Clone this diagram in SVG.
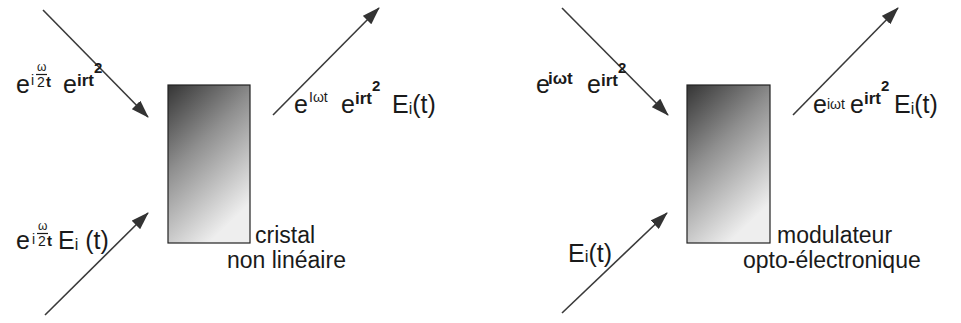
<svg xmlns="http://www.w3.org/2000/svg" width="961" height="323" viewBox="0 0 961 323">
<style>
text{font-family:"Liberation Sans",Arial,sans-serif;fill:#1a1a1a}
.b{font-size:25px}
.s{font-size:14px}
.f{font-size:12px}
.sb{font-size:17px;font-weight:bold}
.sc{font-size:15px;font-weight:bold}
.lab{font-size:23px}
.ar{stroke:#3a3a3a;stroke-width:1.6;fill:none}
.box{stroke:#222;stroke-width:1.2}
.fr{stroke:#1a1a1a;stroke-width:1.2}
</style>
<defs>
<marker id="ah" viewBox="0 0 18 12" refX="17" refY="6" markerWidth="18" markerHeight="12" markerUnits="userSpaceOnUse" orient="auto">
<path d="M0,0 L18,6 L0,12 Z" fill="#333"/>
</marker>
<linearGradient id="g" x1="0" y1="0" x2="0.5" y2="1">
<stop offset="0" stop-color="#353535"/>
<stop offset="0.45" stop-color="#8f8f8f"/>
<stop offset="1" stop-color="#eeeeee"/>
</linearGradient>
</defs>
<g id="connectors">
<line class="ar" x1="43" y1="10" x2="148" y2="117" marker-end="url(#ah)"/>
<line class="ar" x1="45" y1="315" x2="148" y2="213" marker-end="url(#ah)"/>
<line class="ar" x1="273" y1="115" x2="379" y2="8" marker-end="url(#ah)"/>
<line class="ar" x1="562" y1="8" x2="668" y2="115" marker-end="url(#ah)"/>
<line class="ar" x1="562" y1="313" x2="667" y2="213" marker-end="url(#ah)"/>
<line class="ar" x1="793" y1="115" x2="898" y2="8" marker-end="url(#ah)"/>
</g>
<g id="crystal">
<rect class="box" x="168" y="85" width="82" height="158" fill="url(#g)"/>
<text class="lab" x="255" y="243">cristal</text>
<text class="lab" x="227" y="268">non linéaire</text>
</g>
<g id="modulator">
<rect class="box" x="687" y="85" width="83" height="158" fill="url(#g)"/>
<text class="lab" x="777" y="243">modulateur</text>
<text class="lab" x="743" y="268">opto-électronique</text>
</g>
<g id="label-left-top">
<text class="b" x="16" y="93">e</text>
<text class="s" x="31" y="85">i</text>
<text class="f" x="37" y="71">ω</text>
<line class="fr" x1="36" y1="74.5" x2="47" y2="74.5"/>
<text class="s" x="37" y="87">2</text>
<text class="sc" x="46" y="87">t</text>
<text class="b" x="63" y="93">e</text>
<text class="sb" x="77" y="86">irt</text>
<text class="sc" x="94" y="73">2</text>
</g>
<g id="label-left-bottom">
<text class="b" x="16" y="249">e</text>
<text class="s" x="32" y="244">i</text>
<text class="f" x="38" y="230">ω</text>
<line class="fr" x1="37" y1="233.5" x2="48" y2="233.5"/>
<text class="s" x="38" y="246">2</text>
<text class="sc" x="47" y="246">t</text>
<text class="b" x="58" y="249">E<tspan font-size="16" dy="1">i</tspan><tspan dy="-1"> (t)</tspan></text>
</g>
<g id="label-left-out">
<text class="b" x="294" y="113">e</text>
<text class="s" x="309" y="102">Iωt</text>
<text class="b" x="341" y="113">e</text>
<text class="sb" x="355" y="104">irt</text>
<text class="sc" x="372" y="91">2</text>
<text class="b" x="392" y="113">E<tspan font-size="16" dy="1">i</tspan><tspan dy="-1">(t)</tspan></text>
</g>
<g id="label-right-top">
<text class="b" x="536" y="93">e</text>
<text class="sb" x="548" y="84">iωt</text>
<text class="b" x="587" y="93">e</text>
<text class="sb" x="601" y="86">irt</text>
<text class="sc" x="618" y="73">2</text>
</g>
<g id="label-right-bottom">
<text class="b" x="568" y="262">E<tspan font-size="17">i</tspan>(t)</text>
</g>
<g id="label-right-out">
<text class="b" x="813" y="113">e</text>
<text class="s" x="827" y="109">iωt</text>
<text class="b" x="850" y="113">e</text>
<text class="sb" x="864" y="104">irt</text>
<text class="sc" x="881" y="91">2</text>
<text class="b" x="894" y="113">E<tspan font-size="16" dy="1">i</tspan><tspan dy="-1">(t)</tspan></text>
</g>
</svg>
